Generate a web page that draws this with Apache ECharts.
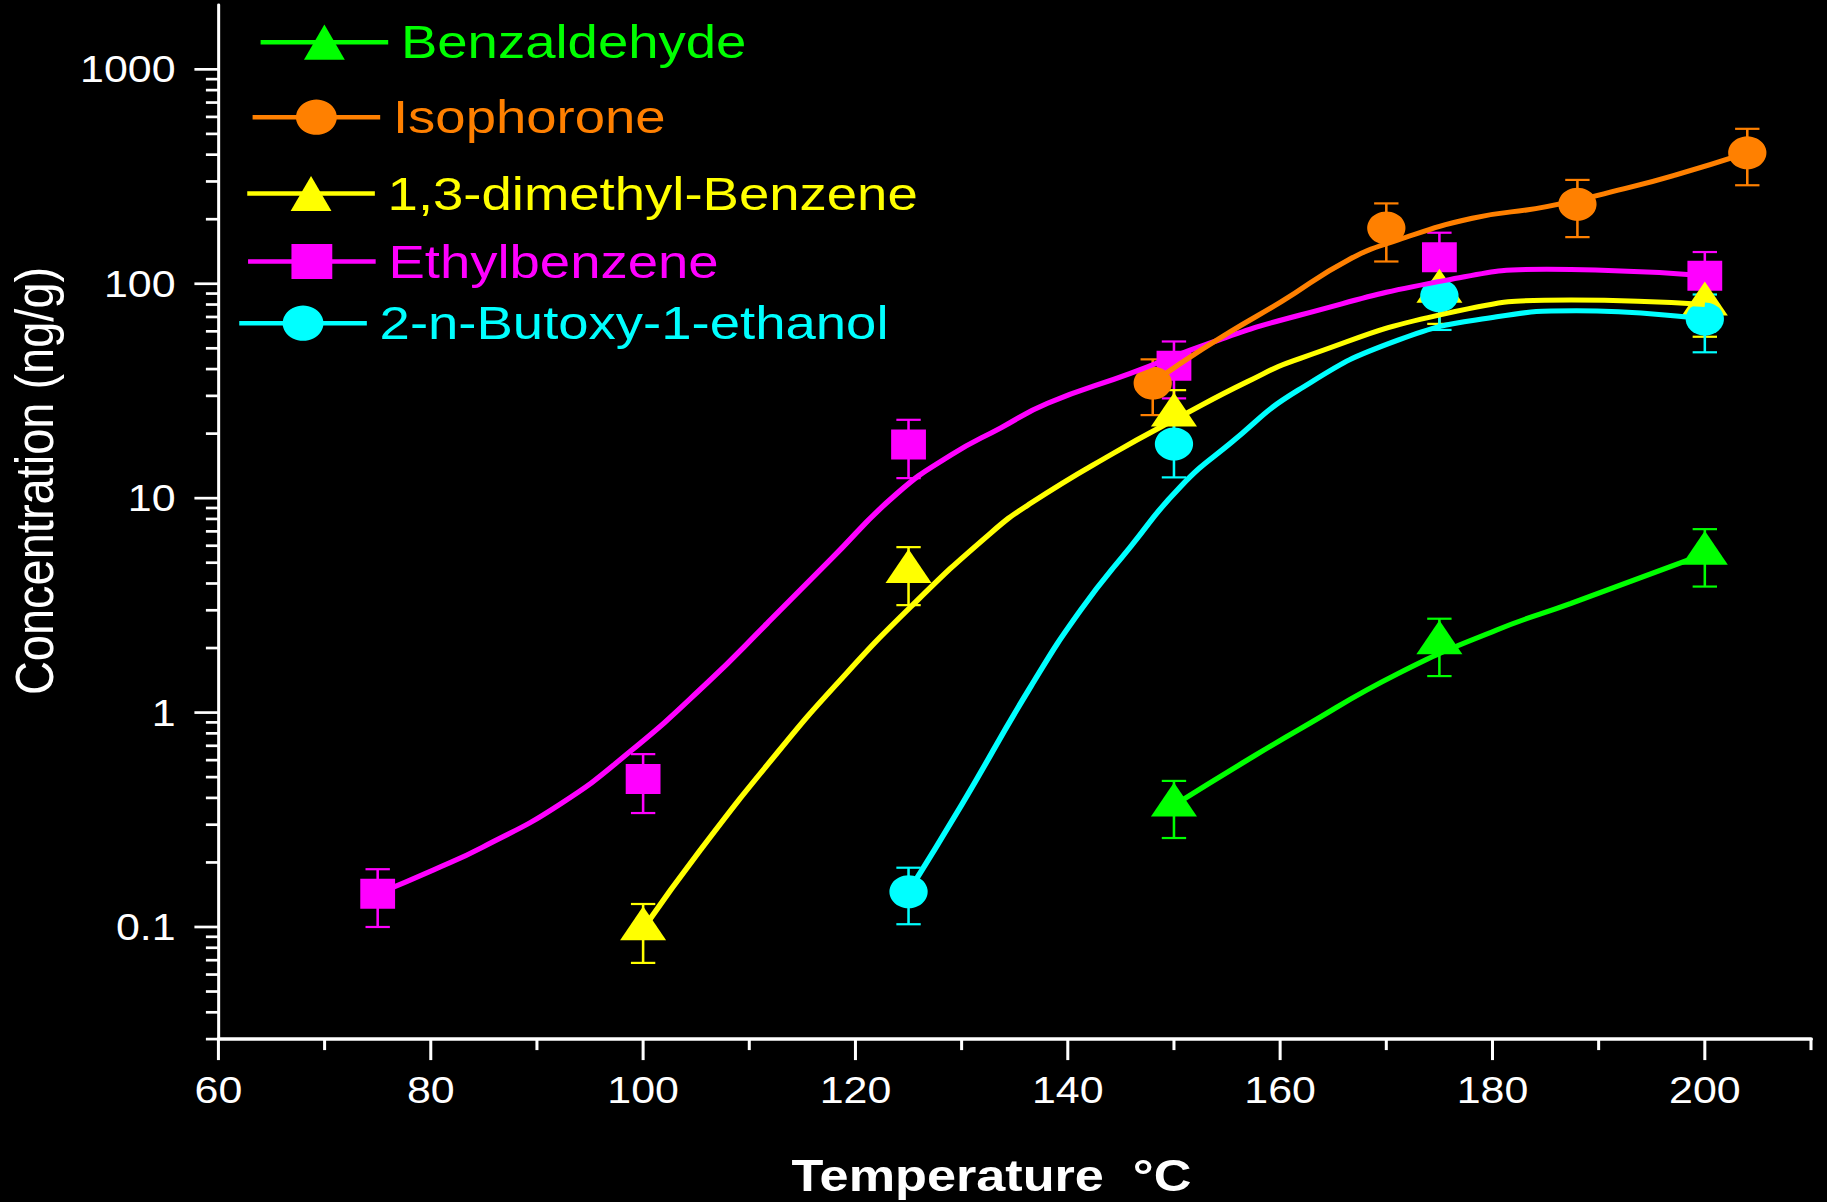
<!DOCTYPE html>
<html>
<head>
<meta charset="utf-8">
<script src="https://cdn.jsdelivr.net/npm/echarts@6/dist/echarts.min.js"></script>
<style>
  html, body { margin: 0; padding: 0; background: #000; width: 1827px; height: 1202px; overflow: hidden; }
  /* the plot is laid out on a narrower canvas and widened horizontally */
  #chart { width: 1575px; height: 1202px; transform: scaleX(1.16); transform-origin: 0 0; }
</style>
</head>
<body>
<div id="chart"></div>
<script>
// ---- axis ticks ----
const tempMajorTicks = [60, 80, 100, 120, 140, 160, 180, 200];
const tempMinorTicks = [70, 90, 110, 130, 150, 170, 190, 210];
const concMajorTicks = [0.1, 1, 10, 100, 1000];
const concMinorTicks = [0.03, 0.04, 0.05, 0.06, 0.07, 0.08, 0.09,
                        0.2, 0.3, 0.4, 0.5, 0.6, 0.7, 0.8, 0.9,
                        2, 3, 4, 5, 6, 7, 8, 9,
                        20, 30, 40, 50, 60, 70, 80, 90,
                        200, 300, 400, 500, 600, 700, 800, 900];

// ---- measured concentrations (ng/g) with standard deviations ----
const benzaldehydeT    = [150, 175, 200];
const benzaldehydeConc = [0.37, 2.11, 5.52];
const benzaldehydeErr  = [0.11, 0.63, 1.65];

const isophoroneT    = [148, 170, 188, 204];
const isophoroneConc = [34.4, 182, 235, 408];
const isophoroneErr  = [10, 55, 70, 120];

const dimethylBenzeneT    = [100, 125, 150, 175, 200];
const dimethylBenzeneConc = [0.098, 4.54, 24.4, 92, 80.3];
const dimethylBenzeneErr  = [0.03, 1.37, 7.5, 27, 23.7];

const ethylbenzeneT    = [75, 100, 125, 150, 175, 200];
const ethylbenzeneConc = [0.143, 0.49, 17.8, 41.5, 133, 109];
const ethylbenzeneErr  = [0.043, 0.15, 5.4, 12.3, 40, 31.6];

const butoxyethanolT    = [125, 150, 175, 200];
const butoxyethanolConc = [0.146, 17.9, 87.9, 68.5];
const butoxyethanolErr  = [0.043, 5.4, 27, 20.6];

// ---- fitted trend curves ----
const benzaldehydeFitT    = [150, 156.9, 161.8, 171.1, 180.4, 187.4, 200];
const benzaldehydeFitConc = [0.37, 0.60, 0.835, 1.52, 2.43, 3.23, 5.5];

const isophoroneFitT    = [148, 150.6, 155.3, 160.1, 166.4, 171.1, 178.1, 185.1, 193, 197.2, 204];
const isophoroneFitConc = [34.4, 42.5, 59.7, 82.4, 129, 160, 202, 229, 282, 321, 408];

const dimethylBenzeneFitT    = [100, 105.4, 112.6, 118.3, 125.2, 132.7, 136.5, 144.3, 150.6, 156.9, 161.9, 175.7, 187.4, 200];
const dimethylBenzeneFitConc = [0.098, 0.229, 0.646, 1.37, 3.11, 6.85, 9.46, 16.2, 24, 34.9, 44.9, 72.8, 84, 80];

const ethylbenzeneFitT    = [75, 80.3, 84.9, 92.1, 98.8, 106, 111.7, 117.6, 123.9, 129, 133.7, 138.1, 145.9, 153.7, 161.9, 175.7, 185.1, 189.7, 200];
const ethylbenzeneFitConc = [0.143, 0.185, 0.236, 0.372, 0.66, 1.37, 2.61, 5.14, 10.5, 15.9, 21.3, 27.7, 38.2, 53.6, 71.5, 104, 116.7, 115.9, 109];

const butoxyethanolFitT    = [125, 130, 136.5, 141.2, 145.9, 150.6, 155.3, 161.7, 171.1, 180.4, 187.9, 200];
const butoxyethanolFitConc = [0.146, 0.371, 1.32, 3.0, 5.93, 11.3, 18.0, 31.9, 54.6, 70.1, 74.8, 68.5];

// ---- styling ----
const FONT = '"Liberation Sans", Arial, Helvetica, sans-serif';
const X_MIN = 60, X_MAX = 210, Y_MIN = 0.03, Y_MAX = 2000;

const compounds = [
  { name: 'Benzaldehyde', color: '#00ff00', symbol: 'triangle', size: [39.7, 34], offset: [0, -5.7],
    t: benzaldehydeT, conc: benzaldehydeConc, err: benzaldehydeErr, fitT: benzaldehydeFitT, fitConc: benzaldehydeFitConc },
  { name: 'Ethylbenzene', color: '#ff00ff', symbol: 'rect', size: [30, 30], offset: [0, 0],
    t: ethylbenzeneT, conc: ethylbenzeneConc, err: ethylbenzeneErr, fitT: ethylbenzeneFitT, fitConc: ethylbenzeneFitConc },
  { name: '1,3-dimethyl-Benzene', color: '#ffff00', symbol: 'triangle', size: [39.7, 34], offset: [0, -5.7],
    t: dimethylBenzeneT, conc: dimethylBenzeneConc, err: dimethylBenzeneErr, fitT: dimethylBenzeneFitT, fitConc: dimethylBenzeneFitConc },
  { name: '2-n-Butoxy-1-ethanol', color: '#00ffff', symbol: 'circle', size: [33, 33], offset: [0, 0],
    t: butoxyethanolT, conc: butoxyethanolConc, err: butoxyethanolErr, fitT: butoxyethanolFitT, fitConc: butoxyethanolFitConc },
  { name: 'Isophorone', color: '#ff8000', symbol: 'circle', size: [33, 33], offset: [0, 0],
    t: isophoroneT, conc: isophoroneConc, err: isophoroneErr, fitT: isophoroneFitT, fitConc: isophoroneFitConc }
];

// legend entries, stacked in the upper-left corner of the plot
const legendLayout = [
  { name: 'Benzaldehyde',         left: 222.4, centerY: 41.7 },
  { name: 'Isophorone',           left: 215.5, centerY: 116.7 },
  { name: '1,3-dimethyl-Benzene', left: 210.9, centerY: 193 },
  { name: 'Ethylbenzene',         left: 211.6, centerY: 261 },
  { name: '2-n-Butoxy-1-ethanol', left: 204,   centerY: 322.7 }
];

const colorOf = {};
compounds.forEach(c => { colorOf[c.name] = c.color; });

// ---- tick marks (drawn outward from both axes) ----
const tickData = []
  .concat(tempMajorTicks.map(v => [v, Y_MIN, 0]))
  .concat(tempMinorTicks.map(v => [v, Y_MIN, 1]))
  .concat(concMajorTicks.map(v => [X_MIN, v, 2]))
  .concat(concMinorTicks.map(v => [X_MIN, v, 3]));

function renderTick(params, api) {
  const p = api.coord([api.value(0), api.value(1)]);
  const kind = api.value(2);
  let shape, lw;
  if (kind < 2) {
    const len = kind === 0 ? 21 : 11;
    shape = { x1: p[0], y1: p[1], x2: p[0], y2: p[1] + len };
    lw = 2.6;
  } else {
    const len = kind === 2 ? 20.7 : 10.8;
    shape = { x1: p[0] - len, y1: p[1], x2: p[0], y2: p[1] };
    lw = 2.7;
  }
  return { type: 'line', shape: shape, style: { stroke: '#ffffff', lineWidth: lw } };
}

function errorBarRenderer(color) {
  const CAP = 21;
  return function (params, api) {
    const x = api.value(0), v = api.value(1), e = api.value(2);
    const top = api.coord([x, v + e]);
    const bot = api.coord([x, v - e]);
    const style = { stroke: color, lineWidth: 2.2, fill: null };
    return {
      type: 'group',
      children: [
        { type: 'line', shape: { x1: top[0], y1: top[1], x2: bot[0], y2: bot[1] }, style: style },
        { type: 'line', shape: { x1: top[0] - CAP / 2, y1: top[1], x2: top[0] + CAP / 2, y2: top[1] }, style: style },
        { type: 'line', shape: { x1: bot[0] - CAP / 2, y1: bot[1], x2: bot[0] + CAP / 2, y2: bot[1] }, style: style }
      ]
    };
  };
}

const series = [{
  type: 'custom',
  name: 'ticks',
  renderItem: renderTick,
  data: tickData,
  silent: true,
  clip: false,
  z: 5
}];

compounds.forEach(c => {
  series.push({
    type: 'line',
    name: c.name,
    data: c.fitT.map((t, i) => [t, c.fitConc[i]]),
    smooth: 0.5,
    showSymbol: false,
    symbol: c.symbol,
    lineStyle: { color: c.color, width: 5 },
    itemStyle: { color: c.color },
    emphasis: { disabled: true },
    silent: true
  });
  series.push({
    type: 'custom',
    name: c.name,
    renderItem: errorBarRenderer(c.color),
    data: c.t.map((t, i) => [t, c.conc[i], c.err[i]]),
    itemStyle: { color: c.color },
    silent: true
  });
  series.push({
    type: 'scatter',
    name: c.name,
    data: c.t.map((t, i) => [t, c.conc[i]]),
    symbol: c.symbol,
    symbolSize: c.size,
    symbolOffset: c.offset,
    itemStyle: { color: c.color, opacity: 1 },
    emphasis: { disabled: true },
    silent: true
  });
});

const legends = legendLayout.map(l => ({
  data: [l.name],
  left: l.left,
  top: l.centerY - 23,
  padding: 0,
  orient: 'horizontal',
  selectedMode: false,
  itemWidth: 110,
  itemHeight: 44,
  lineStyle: { width: 4.5 },
  textStyle: { color: colorOf[l.name], fontSize: 47, fontFamily: FONT, padding: [0, 0, 0, 6] }
}));

const chart = echarts.init(document.getElementById('chart'), null, { renderer: 'svg', width: 1575, height: 1202 });
chart.setOption({
  backgroundColor: '#000000',
  animation: false,
  grid: { left: 188.3, right: 13.8, top: 4.8, bottom: 162.9, containLabel: false, outerBoundsMode: 'none' },
  legend: legends,
  xAxis: {
    type: 'value',
    min: X_MIN,
    max: X_MAX,
    interval: 20,
    axisLine: { onZero: false, lineStyle: { color: '#ffffff', width: 3.5 } },
    axisTick: { show: false },
    splitLine: { show: false },
    axisLabel: { color: '#ffffff', fontSize: 37, fontFamily: FONT, margin: 32, showMaxLabel: false },
    name: 'Temperature  °C',
    nameLocation: 'middle',
    nameGap: 114,
    nameMoveOverlap: false,
    nameTextStyle: { color: '#ffffff', fontSize: 45, fontWeight: 'bold', fontFamily: FONT, padding: [0, 40, 0, 0] }
  },
  yAxis: {
    type: 'log',
    logBase: 10,
    min: Y_MIN,
    max: Y_MAX,
    axisLine: { onZero: false, lineStyle: { color: '#ffffff', width: 2.6 } },
    axisTick: { show: false },
    minorTick: { show: false },
    splitLine: { show: false },
    axisLabel: {
      color: '#ffffff', fontSize: 37, fontFamily: FONT, margin: 37,
      showMinLabel: false, showMaxLabel: false,
      formatter: v => String(+Number(v).toPrecision(6))
    },
    name: 'Concentration (ng/g)',
    nameLocation: 'middle',
    nameGap: 135,
    nameMoveOverlap: false,
    nameTextStyle: { color: '#ffffff', fontSize: 47, fontFamily: FONT, padding: [0, 0, 0, 82] }
  },
  series: series
});
</script>
</body>
</html>
